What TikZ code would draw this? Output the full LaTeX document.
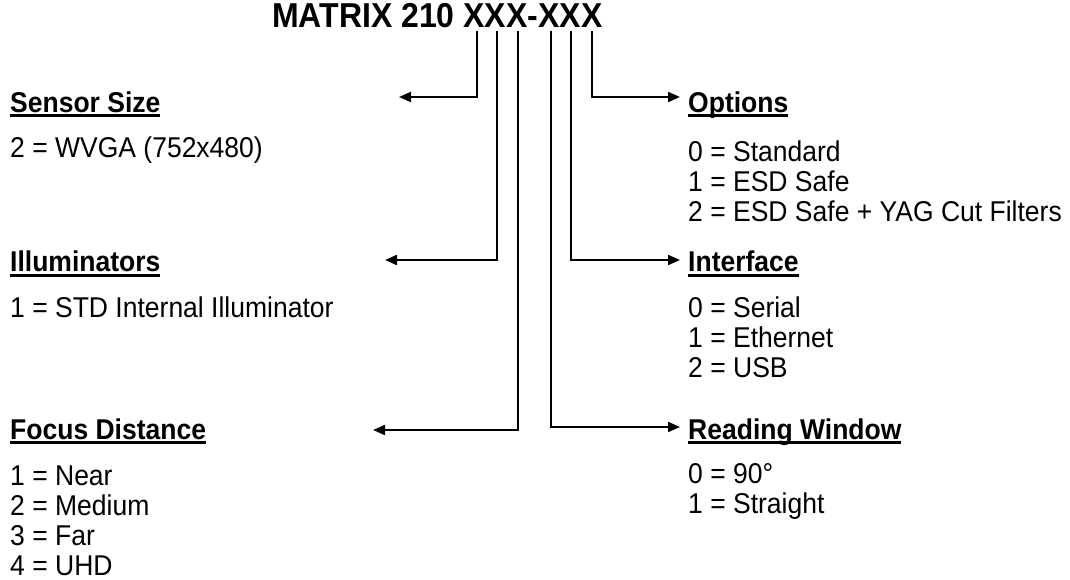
\documentclass[tikz,border=0pt]{standalone}
\usepackage{fontspec}
\setmainfont{Liberation Sans}
\usepackage{graphicx}
\usetikzlibrary{arrows.meta}
\newcommand\hdul[1]{\setbox0\hbox{#1}\rlap{\rule[-5pt]{\wd0}{3pt}}\box0}
\newcommand\tall[1]{\scalebox{1}[1.08]{#1}}
\begin{document}
\begin{tikzpicture}[x=1pt,y=-1pt,
  ttl/.style={font=\fontsize{32}{38}\selectfont\bfseries, inner sep=0pt, anchor=base west},
  hd/.style={font=\fontsize{26.5}{30}\selectfont\bfseries, inner sep=0pt, anchor=base west},
  txt/.style={font=\fontsize{26.5}{30}\selectfont, inner sep=0pt, anchor=base west},
  conn/.style={line width=2pt, -{Triangle[length=12pt,width=10pt]}}]
\useasboundingbox (0,0) rectangle (1070,580);
% title
\node[ttl] (title) at (272,28) {\tall{MATRIX 210 XXX-XXX}};
% left column
\node[hd]  (sensor) at (10,112.5) {\hdul{\tall{Sensor Size}}};
\node[txt] (s1) at (10,158) {\tall{2 = WVGA (752x480)}};
\node[hd]  (illum) at (10,271.5) {\hdul{\tall{Illuminators}}};
\node[txt] (i1) at (10,317) {\tall{1 = STD Internal Illuminator}};
\node[hd]  (focus) at (10,439) {\hdul{\tall{Focus Distance}}};
\node[txt] (f1) at (10,485) {\tall{1 = Near}};
\node[txt] (f2) at (10,515) {\tall{2 = Medium}};
\node[txt] (f3) at (10,545) {\tall{3 = Far}};
\node[txt] (f4) at (10,575) {\tall{4 = UHD}};
% right column
\node[hd]  (opts) at (688,112.5) {\hdul{\tall{Options}}};
\node[txt] (o0) at (688,161.5) {\tall{0 = Standard}};
\node[txt] (o1) at (688,191.5) {\tall{1 = ESD Safe}};
\node[txt] (o2) at (688,221.5) {\tall{2 = ESD Safe + YAG Cut Filters}};
\node[hd]  (iface) at (688,271.5) {\hdul{\tall{Interface}}};
\node[txt] (n0) at (688,317) {\tall{0 = Serial}};
\node[txt] (n1) at (688,347) {\tall{1 = Ethernet}};
\node[txt] (n2) at (688,377) {\tall{2 = USB}};
\node[hd]  (read) at (688,439) {\hdul{\tall{Reading Window}}};
\node[txt] (r0) at (688,483.5) {\tall{0 = 90°}};
\node[txt] (r1) at (688,513.5) {\tall{1 = Straight}};
% connector start points under the X characters
\coordinate (x1) at (477,31);
\coordinate (x2) at (497,31);
\coordinate (x3) at (518,31);
\coordinate (x4) at (551,31);
\coordinate (x5) at (571,31);
\coordinate (x6) at (592,31);
% arrow tips
\coordinate (t1) at (399,97);
\coordinate (t2) at (385,260);
\coordinate (t3) at (373,430);
\coordinate (t4) at (680,427);
\coordinate (t5) at (680,260);
\coordinate (t6) at (680,97);
\draw[conn] (x1) |- (t1);
\draw[conn] (x2) |- (t2);
\draw[conn] (x3) |- (t3);
\draw[conn] (x4) |- (t4);
\draw[conn] (x5) |- (t5);
\draw[conn] (x6) |- (t6);
\end{tikzpicture}
\end{document}
